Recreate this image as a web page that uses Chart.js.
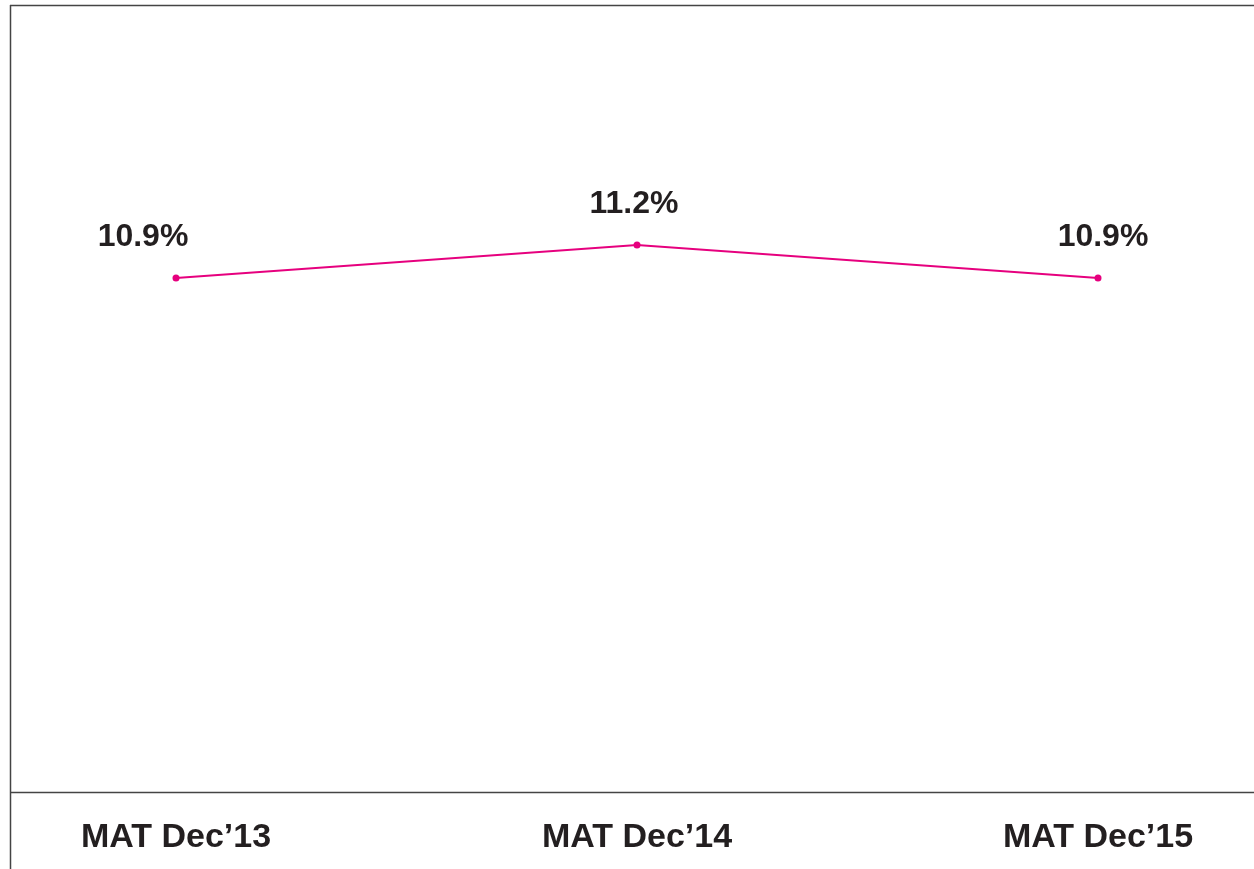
<!DOCTYPE html>
<html>
<head>
<meta charset="utf-8">
<script src="https://cdn.jsdelivr.net/npm/chart.js@4"></script>
<style>
  html, body { margin: 0; padding: 0; background: #fff; }
  #wrap { width: 1254px; height: 869px; }
</style>
</head>
<body>
<div id="wrap"><canvas id="shareChart"></canvas></div>
<script>
const categories = ["MAT Dec’13", "MAT Dec’14", "MAT Dec’15"];
const shareValues = [10.9, 11.2, 10.9];
const valueLabels = ["10.9%", "11.2%", "10.9%"];

// frame lines + value labels
const framePlugin = {
  id: "frame",
  afterDraw(chart) {
    const ctx = chart.ctx;
    const area = chart.chartArea;
    ctx.save();
    ctx.strokeStyle = "#444";
    ctx.lineWidth = 1.5;
    ctx.beginPath();
    ctx.moveTo(10.5, 5);
    ctx.lineTo(10.5, chart.height);
    ctx.moveTo(10, 5.5);
    ctx.lineTo(chart.width, 5.5);
    ctx.moveTo(10, area.bottom + 0.5);
    ctx.lineTo(chart.width, area.bottom + 0.5);
    ctx.stroke();

    const shift = [-33, -3, 5];
    ctx.fillStyle = "#231f20";
    ctx.font = "bold 32px 'Liberation Sans', Arial, sans-serif";
    ctx.textAlign = "center";
    ctx.textBaseline = "alphabetic";
    chart.getDatasetMeta(0).data.forEach((pt, i) => {
      ctx.fillText(valueLabels[i], pt.x + shift[i], pt.y - 32);
    });
    ctx.restore();
  }
};

new Chart(document.getElementById("shareChart"), {
  type: "line",
  data: {
    labels: categories,
    datasets: [{
      data: shareValues,
      borderColor: "#e6007e",
      backgroundColor: "#e6007e",
      borderWidth: 2,
      pointRadius: 3.5,
      pointBorderWidth: 0,
      tension: 0
    }]
  },
  options: {
    responsive: true,
    maintainAspectRatio: false,
    animation: false,
    layout: { padding: { left: 176, right: 156, top: 5, bottom: 0 } },
    plugins: { legend: { display: false }, tooltip: { enabled: false } },
    scales: {
      x: {
        offset: false,
        grid: { display: false, drawTicks: false },
        border: { display: false },
        afterFit(scale) { scale.height = 77; },
        ticks: {
          padding: 25,
          color: "#231f20",
          maxRotation: 0,
          font: { family: "'Liberation Sans', Arial, sans-serif", size: 34, weight: "bold" }
        }
      },
      y: {
        display: false,
        min: 6.23,
        max: 13.38
      }
    }
  },
  plugins: [framePlugin]
});
</script>
</body>
</html>
